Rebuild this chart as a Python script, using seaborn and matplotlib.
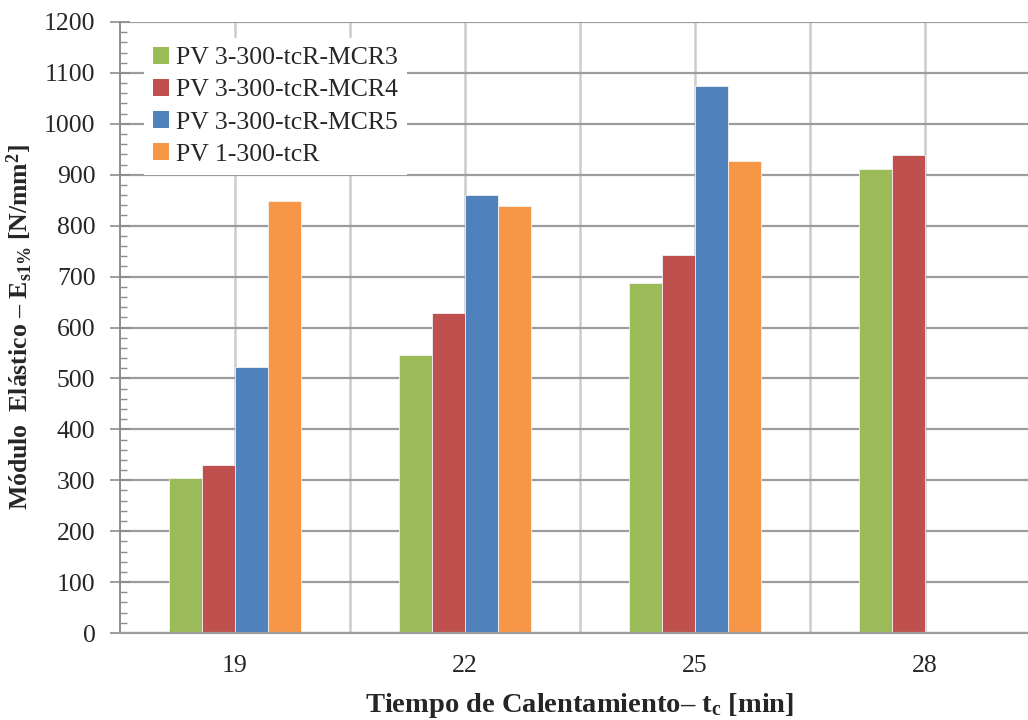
import numpy as np
import pandas as pd
import matplotlib
matplotlib.use("Agg")
import matplotlib.pyplot as plt
from matplotlib.ticker import MultipleLocator, FixedLocator
import seaborn as sns

# Heating time categories (min)
tiempos = ["19", "22", "25", "28"]

# Series names
series = ["PV 3-300-tcR-MCR3", "PV 3-300-tcR-MCR4", "PV 3-300-tcR-MCR5", "PV 1-300-tcR"]

# Elastic modulus values [N/mm²] per series
mcr3 = [305, 546, 688, 912]
mcr4 = [330, 629, 742, 939]
mcr5 = [522, 861, 1074, np.nan]
pv1 = [848, 838, 927, np.nan]

colores = ["#9BBB59", "#C0504D", "#4F81BD", "#F79646"]

rows = []
for nombre, valores in zip(series, [mcr3, mcr4, mcr5, pv1]):
    for t, v in zip(tiempos, valores):
        rows.append({"tiempo": t, "serie": nombre, "modulo": v})
df = pd.DataFrame(rows).dropna()

sns.set_style("white")
plt.rcParams["font.family"] = ["Liberation Serif", "DejaVu Serif"]
plt.rcParams["mathtext.fontset"] = "custom"
plt.rcParams["mathtext.rm"] = "Liberation Serif"
plt.rcParams["mathtext.it"] = "Liberation Serif:italic"
plt.rcParams["mathtext.bf"] = "Liberation Serif:bold"

fig = plt.figure(figsize=(10.28, 7.2), dpi=100)
ax = fig.add_axes([120 / 1028, 1 - 633 / 720, 920 / 1028, 611 / 720])

sns.barplot(
    data=df, x="tiempo", y="modulo", hue="serie",
    order=tiempos, hue_order=series, palette=colores,
    width=0.576, gap=0, saturation=1, errorbar=None,
    edgecolor="#f2f2f2", linewidth=0.6, ax=ax,
)

ax.set_xlim(-0.5, 3.5)
ax.set_ylim(0, 1200)
ax.set_axisbelow(True)

# y axis: major every 100 crossing the spine, minor every 20 inside
ax.yaxis.set_major_locator(MultipleLocator(100))
ax.yaxis.set_minor_locator(MultipleLocator(20))
ax.tick_params(axis="y", which="major", direction="inout", length=14.4,
               width=1.2, color="#8c8c8c", pad=10.5, labelsize=18.5, left=True)
ax.tick_params(axis="y", which="minor", direction="in", length=5,
               width=1.0, color="#8c8c8c", left=True)

# x axis: gridlines at category centres and halfway between them
ax.xaxis.set_minor_locator(FixedLocator([0.5, 1.5, 2.5]))
ax.tick_params(axis="x", which="both", length=0, pad=16, labelsize=18.5)

ax.grid(axis="y", which="major", color="#9c9c9c", linewidth=1.6)
ax.grid(axis="x", which="both", color="#cccccc", linewidth=1.8)

for side in ["top", "right"]:
    ax.spines[side].set_visible(False)
ax.spines["left"].set_color("#8c8c8c")
ax.spines["left"].set_linewidth(1.4)
ax.spines["bottom"].set_color("#9c9c9c")
ax.spines["bottom"].set_linewidth(1.6)

ax.set_xlabel(r"Tiempo de Calentamiento– t$_{\mathbf{c}}$ [min]",
              fontsize=20.5, fontweight="bold")
ax.xaxis.set_label_coords(0.5, -0.118)
ax.xaxis.label.set_va("center")
ax.set_ylabel(r"Módulo  Elástico – E$_{\mathbf{s1\%}}$ [N/mm$^{\mathbf{2}}$]",
              fontsize=18.5, fontweight="bold")
ax.yaxis.set_label_coords(-0.109, 0.5)
ax.yaxis.label.set_va("center")

leg = ax.legend(
    loc="upper left", bbox_to_anchor=(0.012, 0.995), fontsize=18.5,
    frameon=True, fancybox=False, edgecolor="none", facecolor="white",
    framealpha=1, handlelength=0.62, handleheight=0.62, handletextpad=0.28,
    labelspacing=0.38, borderpad=0.35, title=None,
)
for h in leg.legend_handles:
    h.set_edgecolor("none")

fig.savefig("out.png", dpi=100)
